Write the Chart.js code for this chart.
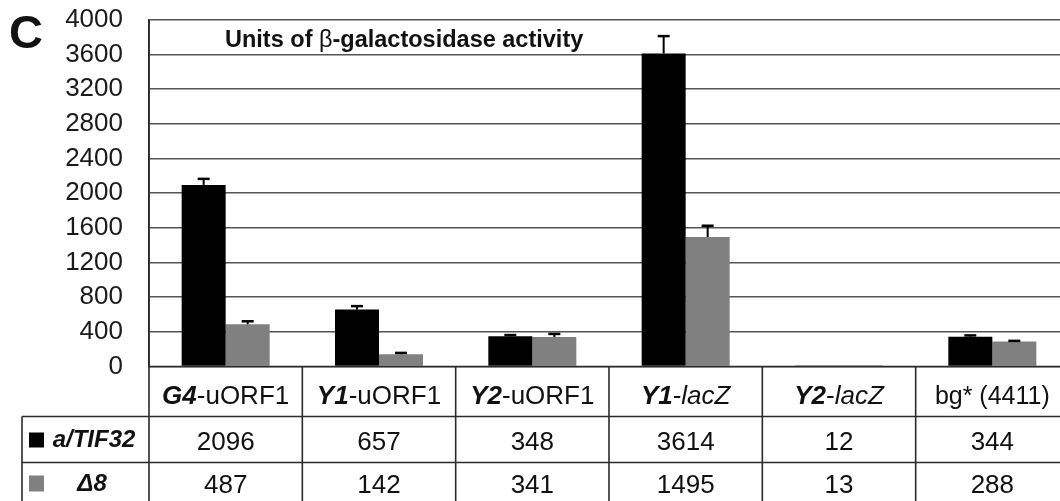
<!DOCTYPE html>
<html><head><meta charset="utf-8">
<style>
html,body{margin:0;padding:0;overflow:hidden;background:#fff;width:1060px;height:501px}
#wrap{position:relative;width:1070px;height:501px}
</style>
<script src="https://cdn.jsdelivr.net/npm/chart.js@4.4.1/dist/chart.umd.min.js"></script>
</head><body><div id="wrap"><canvas id="c"></canvas></div>
<script>
const panelLetter = 'C';
const chartTitle = 'Units of β-galactosidase activity';
const categories = ['G4-uORF1', 'Y1-uORF1', 'Y2-uORF1', 'Y1-lacZ', 'Y2-lacZ', 'bg* (4411)'];
const seriesNames = ['a/TIF32', 'Δ8'];
const tif32Values = [2096, 657, 348, 3614, 12, 344];
const delta8Values = [487, 142, 341, 1495, 13, 288];
const tif32Errors = [70, 40, 15, 200, 0, 15];
const delta8Errors = [35, 15, 35, 130, 0, 8];
const yTicks = [0, 400, 800, 1200, 1600, 2000, 2400, 2800, 3200, 3600, 4000];

const FONT = "'Liberation Sans', Arial, Helvetica, sans-serif";
const seriesColors = ['#000000', '#808080'];
const seriesValues = [tif32Values, delta8Values];
const seriesErrors = [tif32Errors, delta8Errors];

function drawSegs(ctx, segs, cx, baseline, align) {
  let total = 0;
  segs.forEach(s => { ctx.font = s.f; s.w = ctx.measureText(s.t).width; total += s.w; });
  let x = align === 'left' ? cx : cx - total / 2;
  ctx.textAlign = 'left'; ctx.textBaseline = 'alphabetic';
  segs.forEach(s => { ctx.font = s.f; ctx.fillStyle = s.c || '#111'; ctx.fillText(s.t, x, baseline); x += s.w; });
}

function categorySegs(label) {
  const m = label.match(/^([A-Z]\d)-(.*)$/);
  if (!m) return [{t: label, f: '25px ' + FONT}];
  const rest = m[2];
  return [
    {t: m[1], f: 'italic bold 26px ' + FONT},
    {t: '-', f: '26px ' + FONT},
    {t: rest, f: (rest === 'lacZ' ? 'italic ' : '') + '26px ' + FONT}
  ];
}

function line(ctx, x1, y1, x2, y2) { ctx.beginPath(); ctx.moveTo(x1, y1); ctx.lineTo(x2, y2); ctx.stroke(); }

const errorBarPlugin = {
  id: 'errorBars',
  afterDatasetsDraw(chart) {
    const ctx = chart.ctx, ys = chart.scales.y;
    ctx.save();
    ctx.strokeStyle = '#000';
    chart.data.datasets.forEach((ds, di) => {
      const meta = chart.getDatasetMeta(di);
      meta.data.forEach((bar, i) => {
        const err = seriesErrors[di][i];
        if (!err) return;
        const yTop = ys.getPixelForValue(ds.data[i] + err);
        ctx.lineWidth = 2;
        line(ctx, bar.x, bar.y, bar.x, yTop);
        ctx.lineWidth = 2.5;
        line(ctx, bar.x - 6, yTop, bar.x + 6, yTop);
      });
    });
    ctx.restore();
  }
};

const tablePlugin = {
  id: 'table',
  afterDraw(chart) {
    const ctx = chart.ctx, xs = chart.scales.x, ys = chart.scales.y;
    const top = ys.getPixelForValue(0);
    const n = categories.length;
    const cw = (xs.right - xs.left) / n;
    const y1 = top + 50, y2 = y1 + 46, y3 = y2 + 46;
    const tableLeft = 22;
    ctx.save();
    ctx.strokeStyle = '#2a2a2a'; ctx.lineWidth = 1.6;
    line(ctx, xs.left, ys.top, xs.left, y3);
    line(ctx, xs.left, top, xs.right, top);
    line(ctx, tableLeft, y1, xs.right, y1);
    line(ctx, tableLeft, y2, xs.right, y2);
    line(ctx, tableLeft, y3, xs.right, y3);
    line(ctx, tableLeft, y1, tableLeft, y3);
    for (let i = 1; i < n; i++) line(ctx, xs.left + i * cw, top, xs.left + i * cw, y3);

    for (let i = 0; i < n; i++) {
      const cx = xs.getPixelForValue(i);
      drawSegs(ctx, categorySegs(categories[i]), cx, top + 37.5);
      drawSegs(ctx, [{t: String(tif32Values[i]), f: '26px ' + FONT}], cx, top + 83.5);
      drawSegs(ctx, [{t: String(delta8Values[i]), f: '26px ' + FONT}], cx, top + 126.5);
    }
    // legend cells
    ctx.fillStyle = seriesColors[0]; ctx.fillRect(29, y1 + 16, 15, 15);
    ctx.fillStyle = seriesColors[1]; ctx.fillRect(29, y2 + 13, 15, 16);
    drawSegs(ctx, [{t: seriesNames[0], f: 'italic bold 24px ' + FONT}], 94, top + 80.5);
    drawSegs(ctx, [{t: seriesNames[1], f: 'italic bold 24px ' + FONT}], 92, top + 124.5);

    // panel letter
    drawSegs(ctx, [{t: panelLetter, f: 'bold 47px ' + FONT, c: '#111'}], 9, 48, 'left');
    // title
    const parts = chartTitle.split('β');
    drawSegs(ctx, [
      {t: parts[0], f: 'bold 23.5px ' + FONT},
      {t: 'β', f: '23.5px ' + FONT},
      {t: parts[1], f: 'bold 23.5px ' + FONT}
    ], 225, 47, 'left');
    ctx.restore();
  }
};

new Chart(document.getElementById('c'), {
  type: 'bar',
  data: {
    labels: categories,
    datasets: seriesNames.map((name, k) => ({
      label: name,
      data: seriesValues[k],
      backgroundColor: seriesColors[k],
      borderWidth: 0,
      barPercentage: 1,
      categoryPercentage: 0.574
    }))
  },
  options: {
    responsive: true,
    maintainAspectRatio: false,
    animation: false,
    layout: {padding: {top: 20, right: 1, bottom: 134.5, left: 0}},
    plugins: {legend: {display: false}, tooltip: {enabled: false}, title: {display: false}},
    scales: {
      x: {display: false, grid: {display: false}},
      y: {
        min: 0, max: 4000,
        afterBuildTicks(scale) { scale.ticks = yTicks.map(v => ({value: v})); },
        afterFit(scale) { scale.width = 149; scale.paddingTop = 0; scale.paddingBottom = 0; },
        border: {display: true, color: '#2a2a2a', width: 1.6},
        grid: {color: '#555', lineWidth: 1.6, drawTicks: false},
        ticks: {color: '#1a1a1a', padding: 26, font: {family: FONT, size: 26}, callback: v => String(v)}
      }
    }
  },
  plugins: [errorBarPlugin, tablePlugin]
});
</script>
</body></html>
